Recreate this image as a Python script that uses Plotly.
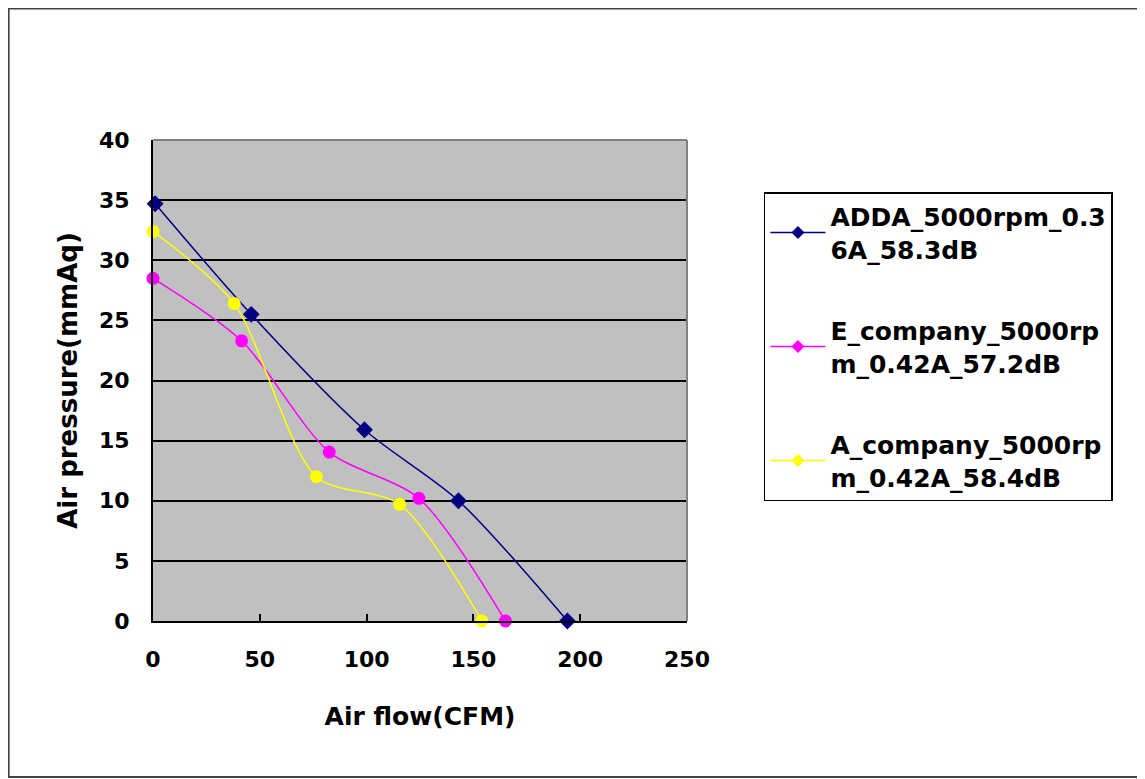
import plotly.graph_objects as go

# ---- data ----
adda_name = "ADDA_5000rpm_0.3<br>6A_58.3dB"
adda_flow = [1, 46, 99, 143, 194]
adda_pressure = [34.7, 25.5, 15.9, 10.0, 0]

e_name = "E_company_5000rp<br>m_0.42A_57.2dB"
e_flow = [0, 41.5, 82.5, 124.5, 165]
e_pressure = [28.5, 23.3, 14.05, 10.2, 0]

a_name = "A_company_5000rp<br>m_0.42A_58.4dB"
a_flow = [0, 38, 76.5, 115.5, 154]
a_pressure = [32.4, 26.4, 12.0, 9.7, 0]

x_ticks = [0, 50, 100, 150, 200, 250]
y_ticks = [0, 5, 10, 15, 20, 25, 30, 35, 40]

FONT = "DejaVu Sans"
series = [
    (adda_name, adda_flow, adda_pressure, "#000080", "diamond", 13),
    (e_name, e_flow, e_pressure, "#ff00ff", "circle", 13),
    (a_name, a_flow, a_pressure, "#ffff00", "circle", 13),
]

W, H = 1137, 771
L, T, PW, PH = 144.5, 132, 534.5, 481

fig = go.Figure()
for i, (name, xs, ys, color, sym, msize) in enumerate(series):
    fig.add_trace(go.Scatter(
        x=xs, y=ys, mode="lines+markers", name=name,
        line=dict(color=color, width=1.5, shape="spline", smoothing=0.8),
        marker=dict(color=color, symbol=sym, size=msize),
        showlegend=False, cliponaxis=False,
    ))
    # legend entry (diamond swatch as in the reference legend)
    fig.add_trace(go.Scatter(
        x=[None], y=[None], mode="lines+markers", name=name,
        line=dict(color=color, width=1.5),
        marker=dict(color=color, symbol="diamond", size=10),
        legendgroup=f"g{i}", showlegend=True,
    ))

fig.update_layout(
    width=W, height=H,
    margin=dict(l=L, r=W - L - PW, t=T, b=H - T - PH, autoexpand=False),
    paper_bgcolor="white",
    plot_bgcolor="#c0c0c0",
    font=dict(family=FONT, color="black", size=22, weight="bold"),
    xaxis=dict(
        range=[0, 250], tickvals=x_ticks, ticks="inside", ticklen=7,
        tickwidth=1.5, tickcolor="black", showgrid=False, zeroline=False,
        showline=True, linecolor="black", linewidth=2,
        ticklabelstandoff=18,
        tickfont=dict(family=FONT, size=22, weight="bold"),
        title=dict(text="Air flow(CFM)", standoff=36,
                   font=dict(family=FONT, size=25, weight="bold")),
    ),
    yaxis=dict(
        range=[0, 40], tickvals=y_ticks, ticks="", showgrid=True,
        gridcolor="black", gridwidth=2, zeroline=False,
        showline=True, linecolor="black", linewidth=2,
        ticklabelstandoff=17,
        tickfont=dict(family=FONT, size=22, weight="bold"),
        title=dict(text="Air pressure(mmAq)", standoff=14,
                   font=dict(family=FONT, size=26, weight="bold")),
    ),
    legend=dict(
        x=(756 - L) / PW, y=(T + PH - 184) / PH, xanchor="left", yanchor="top",
        bordercolor="black", borderwidth=1.5, bgcolor="white",
        font=dict(family=FONT, size=25, weight="bold"),
        tracegroupgap=46, itemwidth=55,
    ),
    shapes=[
        # gray top/right border of plot area
        dict(type="line", xref="x domain", yref="y domain", x0=0, x1=1, y0=1, y1=1,
             line=dict(color="#808080", width=2), layer="above"),
        dict(type="line", xref="x domain", yref="y domain", x0=1, x1=1, y0=0, y1=1,
             line=dict(color="#808080", width=2), layer="above"),
        # outer chart border
        dict(type="rect", xref="paper", yref="paper",
             x0=(0 - L) / PW, x1=(W + 10 - L) / PW,
             y0=(T + PH - (H - 2)) / PH, y1=(T + PH - 0.5) / PH,
             line=dict(color="#444444", width=2), layer="below"),
    ],
)

fig.write_html("out.html")
